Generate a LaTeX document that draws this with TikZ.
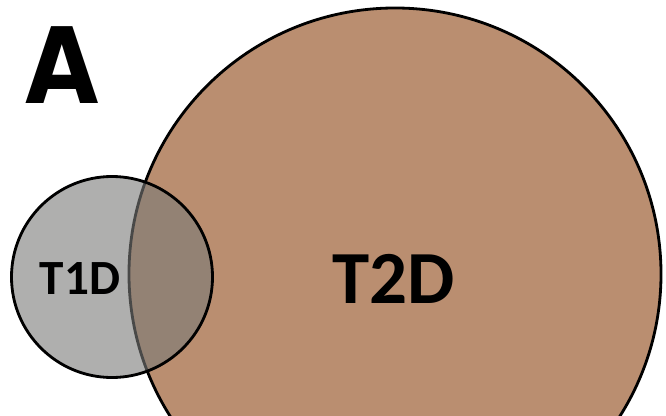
\documentclass[tikz,border=0pt]{standalone}
\usepackage{fontspec}
\setmainfont{Carlito}
\newfontfamily\panelfont{DejaVu Sans}
\definecolor{brownT2D}{RGB}{186,142,112}
\definecolor{grayT1D}{RGB}{122,122,120}

\begin{document}
\begin{tikzpicture}[x=0.03cm,y=-0.03cm,
    set/.style={circle,draw=black,line width=2.4pt,inner sep=0pt},
    lbl/.style={inner sep=0pt,text=black,font=\bfseries},
  ]
    \useasboundingbox (0,0) rectangle (666,415);
    \clip (0,0) rectangle (666,415);

    % Sets
    \node[set,fill=brownT2D,minimum size=15.96cm] (t2d) at (395,274) {};
    \node[set,fill=grayT1D,fill opacity=0.6,minimum size=6.03cm] (t1d) at (112,277) {};

    % Labels
    \node[lbl,font=\bfseries\fontsize{64}{64}\selectfont] (t2dlbl) at (394,279) {T2D};
    \node[lbl,font=\bfseries\fontsize{42}{42}\selectfont] (t1dlbl) at (80,279) {T1D};
    \node[lbl,xscale=0.9,font=\panelfont\bfseries\fontsize{90}{90}\selectfont] (panel) at (62,65) {A};

\end{tikzpicture}
\end{document}
